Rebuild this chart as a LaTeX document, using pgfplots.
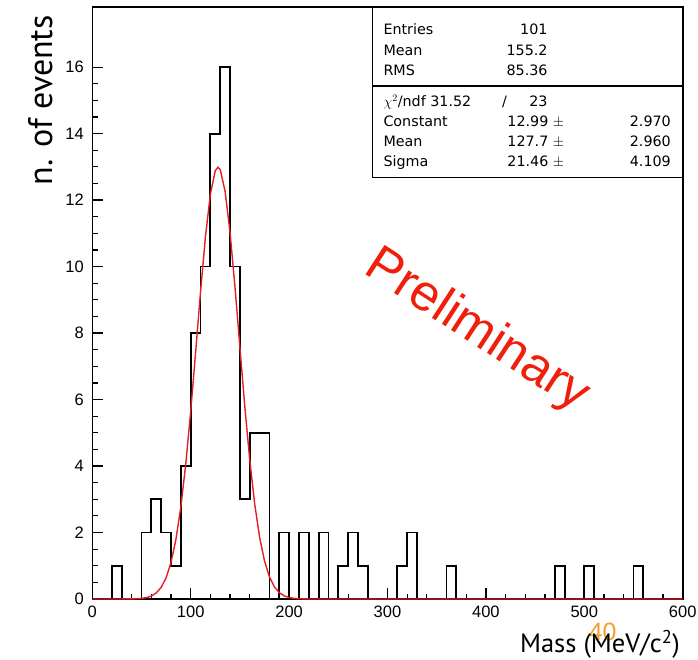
\documentclass[border=0pt]{standalone}
\usepackage{fontspec}
\setmainfont{Liberation Sans}
\newfontfamily\ptsans{PT Sans}
\newfontfamily\dejavu{DejaVu Sans}
\usepackage{pgfplots}
\pgfplotsset{compat=1.18}
\definecolor{fitred}{RGB}{228,30,36}
\definecolor{prelred}{RGB}{240,30,10}
\definecolor{pageorange}{RGB}{245,160,40}
\begin{document}
\begin{tikzpicture}[x=1pt,y=1pt]
\begin{axis}[
  at={(92.3pt,60pt)}, anchor=south west,
  width=590.4pt, height=591.7pt, scale only axis,
  xmin=0, xmax=600, ymin=0, ymax=17.8,
  xtick={0,100,...,600}, minor x tick num=4,
  ytick={0,2,...,16}, minor y tick num=3,
  tick align=inside, tick pos=left,
  major tick length=11pt, minor tick length=5.5pt,
  tick style={black, line width=1.2pt},
  axis line style={line width=1.6pt},
  ticklabel style={font=\fontsize{16.5}{16.5}\selectfont},
  /pgf/number format/assume math mode=true,
  yticklabel style={xshift=-5pt},
  xticklabel style={yshift=-3pt},
]
\addplot[const plot, black, line width=1.8pt, line join=miter] coordinates {
(0,0) (10,0) (20,1) (30,0) (40,0) (50,2) (60,3) (70,2) (80,1) (90,4)
(100,8) (110,10) (120,14) (130,16) (140,10) (150,3) (160,5) (170,5) (180,0) (190,2)
(200,0) (210,2) (220,0) (230,2) (240,0) (250,1) (260,2) (270,1) (280,0) (290,0)
(300,0) (310,1) (320,2) (330,0) (340,0) (350,0) (360,1) (370,0) (380,0) (390,0)
(400,0) (410,0) (420,0) (430,0) (440,0) (450,0) (460,0) (470,1) (480,0) (490,0)
(500,1) (510,0) (520,0) (530,0) (540,0) (550,1) (560,0) (570,0) (580,0) (590,0) (600,0)
};
\addplot[fitred, line width=1.4pt] coordinates {
(0,0) (20,0.0001) (40,0.003) (45,0.0077) (50,0.0185) (55,0.0418) (60,0.0897) (65,0.182)
(70,0.350) (75,0.637) (80,1.099) (85,1.795) (90,2.776) (95,4.068) (100,5.647)
(105,7.424) (110,9.245) (115,10.904) (120,12.181) (125,12.887) (127.7,12.99)
(130,12.916) (135,12.260) (140,11.022) (145,9.386) (150,7.571) (155,5.784)
(160,4.185) (165,2.868) (170,1.862) (175,1.145) (180,0.667) (185,0.368)
(190,0.192) (195,0.095) (200,0.0446) (205,0.0198) (210,0.0083) (220,0.001) (240,0) (600,0)
};
\end{axis}
% statistics box
\draw[line width=1.4pt] (372.3,651.7) rectangle (682.7,481.3);
\draw[line width=1.4pt] (372.3,573) -- (682.7,573);
\begin{scope}[every node/.style={inner sep=0, font=\dejavu\fontsize{14.3}{14.3}\selectfont}]
\node[anchor=base west] at (383.3,624) {Entries};
\node[anchor=base east] at (547.7,624) {101};
\node[anchor=base west] at (383.3,603.3) {Mean};
\node[anchor=base east] at (547.7,603.3) {155.2};
\node[anchor=base west] at (383.3,583.3) {RMS};
\node[anchor=base east] at (547.7,583.3) {85.36};
\node[anchor=base west] at (383.3,552.3) {$\chi^{2}$/ndf 31.52};
\node[anchor=base west] at (502,552.3) {/};
\node[anchor=base east] at (547.7,552.3) {23};
\node[anchor=base west] at (383.3,532.3) {Constant};
\node[anchor=base east] at (564.3,532.3) {12.99 $\pm$};
\node[anchor=base east] at (671,532.3) {2.970};
\node[anchor=base west] at (383.3,512.3) {Mean};
\node[anchor=base east] at (564.3,512.3) {127.7 $\pm$};
\node[anchor=base east] at (671,512.3) {2.960};
\node[anchor=base west] at (383.3,492.3) {Sigma};
\node[anchor=base east] at (564.3,492.3) {21.46 $\pm$};
\node[anchor=base east] at (671,492.3) {4.109};
\end{scope}
% watermark
\node[rotate=-33, anchor=base, text=prelred, inner sep=0, font=\fontsize{51}{51}\selectfont] at (469.9,316.6) {Preliminary};
% axis titles
\node[rotate=90, anchor=base east, inner sep=0, font=\ptsans\fontsize{34}{34}\selectfont] at (52,644) {n. of events};
\node[text=pageorange, inner sep=0, font=\fontsize{25}{25}\selectfont] at (602.7,27.3) {40};
\node[anchor=base east, inner sep=0, font=\ptsans\fontsize{26.5}{26.5}\selectfont] at (680,6.5) {Mass (MeV/c\textsuperscript{2})};
\pgfresetboundingbox
\path (0,0) rectangle (698,659);
\end{tikzpicture}
\end{document}
